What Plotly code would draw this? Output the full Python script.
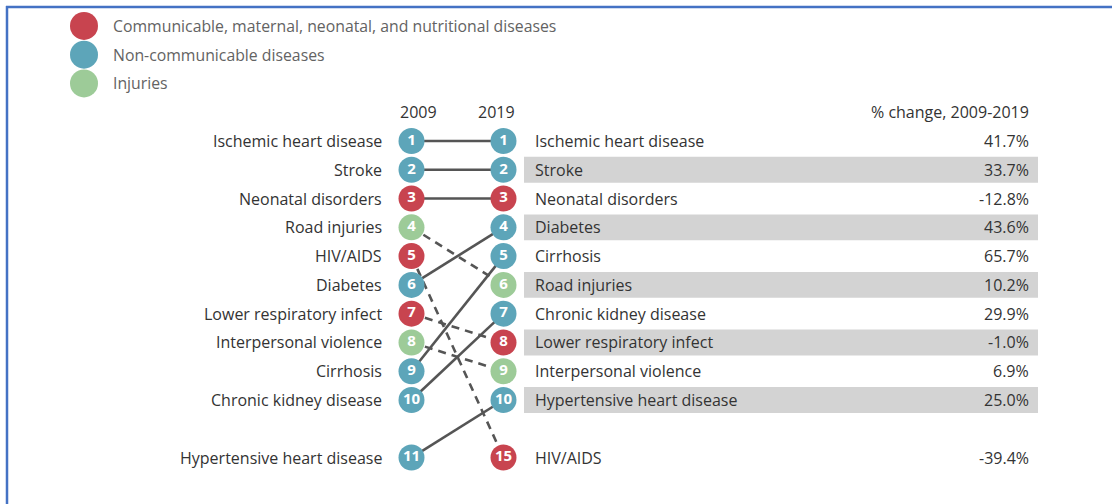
import plotly.graph_objects as go

# ---------------- data ----------------
causes_2009 = ["Ischemic heart disease", "Stroke", "Neonatal disorders", "Road injuries",
               "HIV/AIDS", "Diabetes", "Lower respiratory infect", "Interpersonal violence",
               "Cirrhosis", "Chronic kidney disease", "Hypertensive heart disease"]
rank_2009 = [1, 2, 3, 4, 5, 6, 7, 8, 9, 10, 11]
rank_2019 = [1, 2, 3, 6, 15, 4, 8, 9, 5, 7, 10]
groups = ["ncd", "ncd", "cmnn", "inj", "cmnn", "ncd", "cmnn", "inj", "ncd", "ncd", "ncd"]
pct_change = [41.7, 33.7, -12.8, 10.2, -39.4, 43.6, -1.0, 6.9, 65.7, 29.9, 25.0]

legend_labels = {"cmnn": "Communicable, maternal, neonatal, and nutritional diseases",
                 "ncd": "Non-communicable diseases",
                 "inj": "Injuries"}
years = ["2009", "2019"]
value_header = "% change, 2009-2019"

# ---------------- style ----------------
colors = {"cmnn": "#C8444F", "ncd": "#5DA5B9", "inj": "#9DCB98"}
FONT = "Open Sans"
FS = 16
X09, X19 = 411.5, 503.5
X_LEFT_LABEL = 384
X_RIGHT_LABEL = 533
X_VALUE = 1031
BAND_X0, BAND_X1 = 524, 1038


def row_of(rank):
    return rank if rank <= 10 else 12


fig = go.Figure()

# gray bands on the right table (even 2019 rows)
order_2019 = sorted(range(len(causes_2009)), key=lambda i: rank_2019[i])
for i in order_2019:
    r = row_of(rank_2019[i])
    if rank_2019[i] <= 10 and rank_2019[i] % 2 == 0:
        fig.add_shape(type="rect", x0=BAND_X0, x1=BAND_X1, y0=r - 0.45, y1=r + 0.45,
                      fillcolor="#D3D3D3", line_width=0, layer="below")

# connecting lines
for i in range(len(causes_2009)):
    r0, r1 = row_of(rank_2009[i]), row_of(rank_2019[i])
    dashed = rank_2019[i] > rank_2009[i]
    fig.add_trace(go.Scatter(x=[X09, X19], y=[r0, r1], mode="lines",
                             line=dict(color="#555555", width=2.6,
                                       dash="8px,6px" if dashed else "solid"),
                             hoverinfo="skip", showlegend=False))

# circles
for xcol, ranks in [(X09, rank_2009), (X19, rank_2019)]:
    fig.add_trace(go.Scatter(
        x=[xcol] * len(ranks), y=[row_of(r) for r in ranks], mode="markers+text",
        marker=dict(size=26, color=[colors[g] for g in groups], line=dict(width=0)),
        text=[str(r) for r in ranks], textposition="middle center",
        textfont=dict(family=FONT, size=15, color="white", weight="bold"),
        hoverinfo="skip", showlegend=False))

# legend
for k, key in enumerate(["cmnn", "ncd", "inj"]):
    y = -3 + k
    fig.add_trace(go.Scatter(x=[84], y=[y], mode="markers",
                             marker=dict(size=28, color=colors[key]),
                             hoverinfo="skip", showlegend=False))
    fig.add_annotation(x=111, y=y, text=legend_labels[key], showarrow=False,
                       xanchor="left", yanchor="middle",
                       font=dict(family=FONT, size=15.8, color="#636363"))

# headers
fig.add_annotation(x=418, y=0, text=years[0], showarrow=False, xanchor="center",
                   font=dict(family=FONT, size=FS, color="#333333"))
fig.add_annotation(x=496, y=0, text=years[1], showarrow=False, xanchor="center",
                   font=dict(family=FONT, size=FS, color="#333333"))
fig.add_annotation(x=X_VALUE, y=0, text=value_header, showarrow=False, xanchor="right",
                   font=dict(family=FONT, size=FS, color="#333333"))

# left labels
for i, c in enumerate(causes_2009):
    fig.add_annotation(x=X_LEFT_LABEL, y=row_of(rank_2009[i]), text=c, showarrow=False,
                       xanchor="right", yanchor="middle",
                       font=dict(family=FONT, size=FS, color="#333333"))

# right labels + values
for i in order_2019:
    r = row_of(rank_2019[i])
    fig.add_annotation(x=X_RIGHT_LABEL, y=r, text=causes_2009[i], showarrow=False,
                       xanchor="left", yanchor="middle",
                       font=dict(family=FONT, size=FS, color="#333333"))
    fig.add_annotation(x=X_VALUE, y=r, text=f"{pct_change[i]:.1f}%", showarrow=False,
                       xanchor="right", yanchor="middle",
                       font=dict(family=FONT, size=FS, color="#333333"))

# frame border (top and left)
fig.add_shape(type="line", xref="x", yref="paper", x0=6, x1=1112, y0=1 - 7 / 504, y1=1 - 7 / 504,
              line=dict(color="#4472C4", width=2.5))
fig.add_shape(type="line", xref="x", yref="paper", x0=7, x1=7, y0=1 - 6 / 504, y1=0,
              line=dict(color="#4472C4", width=2.5))

row_px = (400 - 141) / 9
fig.update_layout(
    width=1112, height=504, margin=dict(l=0, r=0, t=0, b=0),
    paper_bgcolor="white", plot_bgcolor="white",
    xaxis=dict(range=[0, 1112], visible=False, fixedrange=True),
    yaxis=dict(range=[1 + (504 - 141) / row_px, 1 - 141 / row_px], visible=False, fixedrange=True),
    showlegend=False,
)
fig.write_html("out.html", config={"displayModeBar": False},
               post_script="document.body.style.margin='0px';document.body.style.overflow='hidden';")
